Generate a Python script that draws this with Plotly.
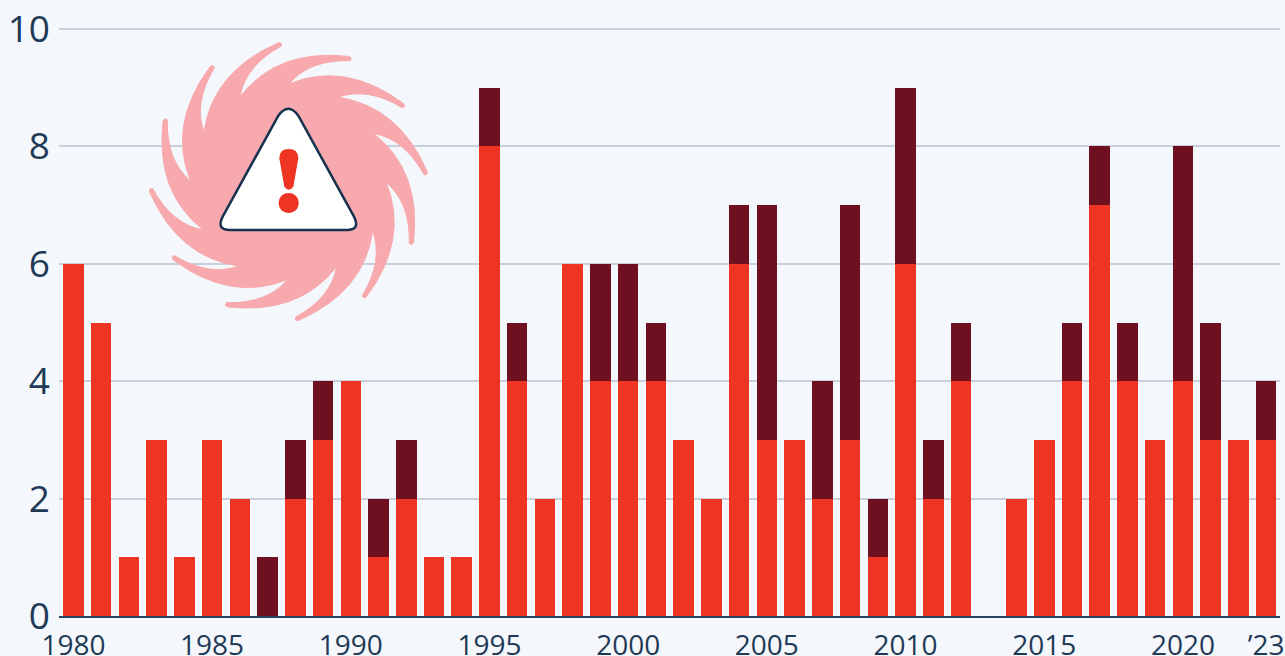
import math
import plotly.graph_objects as go

years = list(range(1980, 2024))
red_values = [6, 5, 1, 3, 1, 3, 2, 0, 2, 3, 4, 1, 2, 1, 1, 8, 4, 2, 6, 4, 4, 4, 3, 2,
              6, 3, 3, 2, 3, 1, 6, 2, 4, 0, 2, 3, 4, 7, 4, 3, 4, 3, 3, 3]
dark_values = [0, 0, 0, 0, 0, 0, 0, 1, 1, 1, 0, 1, 1, 0, 0, 1, 1, 0, 0, 2, 2, 1, 0, 0,
               1, 4, 0, 2, 4, 1, 3, 1, 1, 0, 0, 0, 1, 1, 1, 0, 4, 2, 0, 1]
x_tick_values = [1980, 1985, 1990, 1995, 2000, 2005, 2010, 2015, 2020, 2023]
x_tick_labels = ["1980", "1985", "1990", "1995", "2000", "2005", "2010", "2015", "2020", "’23"]
y_tick_values = [0, 2, 4, 6, 8, 10]

BG = "#f4f7fb"
RED = "#ee3524"
DARK = "#6e1020"
NAVY = "#1f3a56"
GRID = "#c9d0dc"
SWIRL = "#f7a9ad"
FONT = "Open Sans"

W, H = 1285, 656
L, R, T, B = 59, 5, 20, 40
PW, PH = W - L - R, H - T - B


def pt(px, py):
    return f"{(px - L) / PW:.5f},{(H - B - py) / PH:.5f}"


def zoom_pt(zx, zy):
    # icon geometry measured in the 3x crop anchored at (130, 20)
    return pt(130 + zx / 3, 20 + zy / 3)


CX, CY = 475, 485


def rot(p, k):
    a = math.radians(30 * k)
    x, y = p
    return (CX + x * math.cos(a) - y * math.sin(a), CY + x * math.sin(a) + y * math.cos(a))


TIP_A = (-31, -416)
TIP_B = (-21, -407)
TIP_C = (-19, -419)
NOTCH = (-145, -255)
C_OUT = (-228, -330)
C_IN = (-128, -349)

swirl = "M" + zoom_pt(*rot(NOTCH, -1))
for k in range(12):
    swirl += " Q" + zoom_pt(*rot(C_OUT, k)) + " " + zoom_pt(*rot(TIP_A, k))
    swirl += " Q" + zoom_pt(*rot(TIP_C, k)) + " " + zoom_pt(*rot(TIP_B, k))
    swirl += " Q" + zoom_pt(*rot(C_IN, k)) + " " + zoom_pt(*rot(NOTCH, k))
swirl += " Z"

triangle = ("M" + zoom_pt(445, 287) + " Q" + zoom_pt(475, 245) + " " + zoom_pt(505, 287)
            + " L" + zoom_pt(672, 590) + " Q" + zoom_pt(692, 630) + " " + zoom_pt(650, 630)
            + " L" + zoom_pt(300, 630) + " Q" + zoom_pt(258, 630) + " " + zoom_pt(278, 590) + " Z")

bang = ("M" + zoom_pt(448, 415) + " Q" + zoom_pt(448, 387) + " " + zoom_pt(476, 387)
        + " Q" + zoom_pt(505, 387) + " " + zoom_pt(505, 415)
        + " L" + zoom_pt(490, 500) + " Q" + zoom_pt(476, 518) + " " + zoom_pt(463, 500) + " Z")

r = 30
dot = ("M" + zoom_pt(476 - r, 549) + " C" + zoom_pt(476 - r, 549 - 1.33 * r) + " "
       + zoom_pt(476 + r, 549 - 1.33 * r) + " " + zoom_pt(476 + r, 549) + " C"
       + zoom_pt(476 + r, 549 + 1.33 * r) + " " + zoom_pt(476 - r, 549 + 1.33 * r) + " "
       + zoom_pt(476 - r, 549) + " Z")

fig = go.Figure()
fig.add_bar(x=years, y=red_values, marker=dict(color=RED, line=dict(width=0)), name="red")
fig.add_bar(x=years, y=dark_values, marker=dict(color=DARK, line=dict(width=0)), name="dark")

shapes = [
    # breaks in the gridlines around the icon
    dict(type="line", layer="below", xref="paper", yref="y", line=dict(color=BG, width=4),
         x0=(135 - L) / PW, x1=(445 - L) / PW, y0=8, y1=8),
    dict(type="line", layer="below", xref="paper", yref="y", line=dict(color=BG, width=4),
         x0=(148 - L) / PW, x1=(430 - L) / PW, y0=6, y1=6),
    dict(type="path", xref="paper", yref="paper", path=swirl, fillcolor=SWIRL,
         line=dict(color=SWIRL, width=1)),
    dict(type="path", xref="paper", yref="paper", path=triangle, fillcolor="#ffffff",
         line=dict(color="#17324f", width=2.5)),
    dict(type="path", xref="paper", yref="paper", path=bang, fillcolor=RED, line=dict(width=0)),
    dict(type="path", xref="paper", yref="paper", path=dot, fillcolor=RED, line=dict(width=0)),
]

fig.update_layout(
    width=W, height=H, autosize=False,
    barmode="stack", bargap=0.26, showlegend=False,
    paper_bgcolor=BG, plot_bgcolor=BG,
    margin=dict(l=L, r=R, t=T, b=B, pad=0),
    shapes=shapes,
    xaxis=dict(
        range=[1979.48, 2023.5], tickmode="array", tickvals=x_tick_values, ticktext=x_tick_labels,
        showgrid=False, zeroline=False, showline=True, linecolor="#2b4560", linewidth=2,
        ticks="", ticklabelstandoff=3, tickangle=0, automargin=False,
        tickfont=dict(family=FONT, size=28, color=NAVY),
    ),
    yaxis=dict(
        range=[0, 596 / 58.7], tickmode="array", tickvals=y_tick_values,
        showgrid=True, gridcolor=GRID, gridwidth=2, zeroline=False, showline=False,
        ticks="", ticklabelstandoff=8, automargin=False,
        tickfont=dict(family=FONT, size=37, color=NAVY),
    ),
)

fig.write_html(
    "out.html",
    config={"displayModeBar": False},
    post_script="document.body.style.margin='0';document.body.style.overflow='hidden';"
                f"document.body.style.background='{BG}';",
)
